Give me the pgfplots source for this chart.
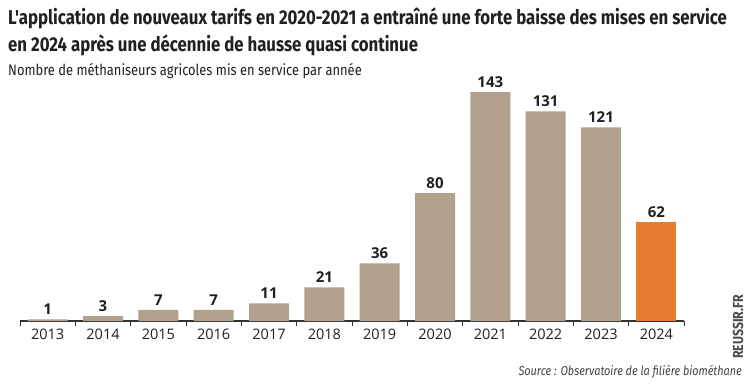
\documentclass[border=0pt]{standalone}
\usepackage{pgfplots}
\pgfplotsset{compat=1.18}
\usepackage{fontspec}
\setmainfont{Open Sans}
\newfontfamily\titlefont[FakeStretch=0.84]{Fira Sans}
\newfontfamily\subfont[FakeStretch=0.85]{Fira Sans}
\definecolor{taupe}{HTML}{B1A18D}
\definecolor{orangebar}{HTML}{E87B2F}
\definecolor{txt}{HTML}{231F20}
\begin{document}
\begin{tikzpicture}[x=1pt,y=1pt]
\path[use as bounding box,fill=white] (0,0) rectangle (747,-389);
\node[anchor=base west,inner sep=0,text=txt] at (8,-24) {\titlefont\bfseries\fontsize{20}{22}\selectfont L'application de nouveaux tarifs en 2020-2021 a entraîné une forte baisse des mises en service};
\node[anchor=base west,inner sep=0,text=txt] at (8,-51) {\titlefont\bfseries\fontsize{20}{22}\selectfont en 2024 après une décennie de hausse quasi continue};
\node[anchor=base west,inner sep=0,text=txt] at (8,-75) {\subfont\fontsize{15.2}{18}\selectfont Nombre de méthaniseurs agricoles mis en service par année};
\node[anchor=base east,inner sep=0,text=txt!85] at (742,-375) {\subfont\itshape\fontsize{12.8}{15}\selectfont Source : Observatoire de la filière biométhane};
\node[rotate=90,inner sep=0,text=black!70] at (738,-327) {\subfont\bfseries\fontsize{14.5}{16}\selectfont REUSSIR.FR};
\begin{axis}[
  at={(20pt,-321pt)}, anchor=south west,
  scale only axis, width=664pt, height=256pt,
  xmin=-0.5, xmax=11.5, ymin=0, ymax=160,
  axis x line=bottom, axis y line=none,
  x axis line style={-, line width=1.1pt, color=black!80},
  xtick={0,...,11},
  xticklabels={2013,2014,2015,2016,2017,2018,2019,2020,2021,2022,2023,2024},
  major tick length=0pt,
  minor xtick={-0.5,0.5,...,11.5},
  minor tick length=5pt,
  tick align=outside,
  minor tick style={line width=1pt, color=black!80},
  xticklabel style={font=\fontsize{14.5}{16}\selectfont, text=txt, yshift=-4pt},
  /pgf/number format/assume math mode=true,
  nodes near coords style={font=\bfseries\fontsize{15}{16}\selectfont, text=txt, yshift=1pt},
  clip=false,
]
\addplot[ybar, bar width=40pt, bar shift=0pt, fill=taupe, draw=none, nodes near coords]
  coordinates {(0,1) (1,3) (2,7) (3,7) (4,11) (5,21) (6,36) (7,80) (8,143) (9,131) (10,121)};
\addplot[ybar, bar width=40pt, bar shift=0pt, fill=orangebar, draw=none, nodes near coords]
  coordinates {(11,62)};
\end{axis}
\end{tikzpicture}
\end{document}
